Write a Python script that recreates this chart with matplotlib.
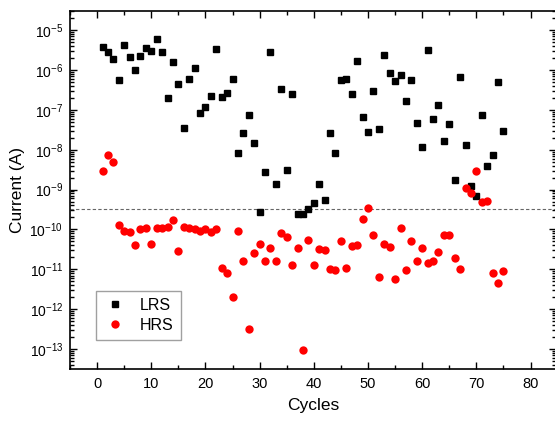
import numpy as np
import matplotlib
matplotlib.use("Agg")
import matplotlib.pyplot as plt
from matplotlib.ticker import FixedLocator, NullFormatter, LogFormatterSciNotation

plt.rcParams['font.family'] = ['Liberation Sans', 'DejaVu Sans']
plt.rcParams['mathtext.fontset'] = 'custom'
plt.rcParams['mathtext.rm'] = 'Liberation Sans'
plt.rcParams['mathtext.it'] = 'Liberation Sans'
plt.rcParams['mathtext.default'] = 'regular'

# Switching cycles
cycles = np.arange(1, 76)

# Low-resistance-state read current (A)
lrs_current = [
    3.7e-6, 2.8e-6, 1.9e-6, 5.6e-7, 4.2e-6, 2.1e-6, 9.8e-7, 2.3e-6, 3.5e-6, 3.0e-6,
    5.9e-6, 2.9e-6, 2.0e-7, 1.6e-6, 4.4e-7, 3.6e-8, 6.0e-7, 1.1e-6, 8.2e-8, 1.15e-7,
    2.2e-7, 3.3e-6, 2.1e-7, 2.7e-7, 5.8e-7, 8.3e-9, 2.6e-8, 7.5e-8, 1.5e-8, 2.7e-10,
    2.7e-9, 2.9e-6, 1.4e-9, 3.4e-7, 3.1e-9, 2.5e-7, 2.5e-10, 2.4e-10, 3.2e-10, 4.7e-10,
    1.4e-9, 5.4e-10, 2.6e-8, 8.1e-9, 5.6e-7, 5.8e-7, 2.5e-7, 1.7e-6, 6.6e-8, 2.8e-8,
    2.9e-7, 3.3e-8, 2.4e-6, 8.2e-7, 5.2e-7, 7.6e-7, 1.66e-7, 5.6e-7, 4.6e-8, 1.15e-8,
    3.1e-6, 6.0e-8, 1.3e-7, 1.66e-8, 4.5e-8, 1.7e-9, 6.5e-7, 1.3e-8, 1.2e-9, 6.9e-10,
    7.4e-8, 4.0e-9, 7.4e-9, 5.0e-7, 2.9e-8,
]

# High-resistance-state read current (A)
hrs_current = [
    3.0e-9, 7.2e-9, 5.0e-9, 1.3e-10, 9.1e-11, 8.8e-11, 4.0e-11, 1.0e-10, 1.06e-10, 4.3e-11,
    1.07e-10, 1.08e-10, 1.14e-10, 1.7e-10, 2.9e-11, 1.14e-10, 1.1e-10, 1.04e-10, 9.1e-11, 1.03e-10,
    8.8e-11, 1.0e-10, 1.07e-11, 7.9e-12, 2.0e-12, 9.1e-11, 1.65e-11, 3.1e-13, 2.6e-11, 4.2e-11,
    1.6e-11, 3.5e-11, 1.6e-11, 8.3e-11, 6.4e-11, 1.3e-11, 3.5e-11, 9.3e-14, 5.4e-11, 1.3e-11,
    3.2e-11, 3.1e-11, 1.0e-11, 9.5e-12, 5.1e-11, 1.05e-11, 3.8e-11, 4.1e-11, 1.8e-10, 3.4e-10,
    7.1e-11, 6.3e-12, 4.4e-11, 3.7e-11, 5.8e-12, 1.1e-10, 9.4e-12, 5.1e-11, 1.66e-11, 3.5e-11,
    1.45e-11, 1.66e-11, 2.7e-11, 7.4e-11, 7.4e-11, 1.95e-11, 1.0e-11, 1.1e-9, 8.3e-10, 2.9e-9,
    4.9e-10, 5.3e-10, 7.9e-12, 4.5e-12, 9.3e-12,
]

# Read-current threshold separating the two states
threshold = 3.2e-10

# Axis ticks
x_major = [0, 10, 20, 30, 40, 50, 60, 70, 80]
x_minor = [-5, 5, 15, 25, 35, 45, 55, 65, 75]
y_decades = list(range(-13, -4))

y_ymin, y_ymax = 10 ** -13.5, 10 ** -4.52
y_major = [10.0 ** d for d in y_decades]
y_minor = [m * 10.0 ** d for d in range(-14, -4) for m in range(2, 10)
           if y_ymin <= m * 10.0 ** d <= y_ymax]

fig = plt.figure(figsize=(5.55, 4.22), dpi=100)
ax = fig.add_axes([70 / 555, 1 - 369 / 422, (556 - 70) / 555, (369 - 11) / 422])

ax.plot(cycles, lrs_current, linestyle='none', marker='s', markersize=4.8,
        color='black', label='LRS', zorder=3)
ax.plot(cycles, hrs_current, linestyle='none', marker='o', markersize=6.0,
        color='#ff0000', markeredgewidth=0, label='HRS', zorder=3)
ax.axhline(threshold, color='#666666', linestyle=(0, (3, 2)), linewidth=0.8, zorder=2)

ax.set_yscale('log')
ax.set_xlim(-5, 84.7)
ax.set_ylim(y_ymin, y_ymax)

ax.xaxis.set_major_locator(FixedLocator(x_major))
ax.xaxis.set_minor_locator(FixedLocator(x_minor))
ax.yaxis.set_major_locator(FixedLocator(y_major))
ax.yaxis.set_major_formatter(LogFormatterSciNotation())
ax.yaxis.set_minor_locator(FixedLocator(y_minor))
ax.yaxis.set_minor_formatter(NullFormatter())

ax.tick_params(which='both', direction='in', top=True, right=True, width=1)
ax.tick_params(which='major', length=5)
ax.tick_params(which='minor', length=3)
ax.tick_params(axis='x', labelsize=10.5, pad=6)
ax.tick_params(axis='y', labelsize=10, pad=5)
for s in ax.spines.values():
    s.set_linewidth(1.2)

ax.set_xlabel('Cycles', fontsize=12.5, labelpad=5)
ax.set_ylabel('Current (A)', fontsize=12.5, labelpad=3)

leg = ax.legend(loc='lower left', bbox_to_anchor=((95.7 - 70) / 486, (369 - 340) / 358),
                fontsize=11.5, frameon=True, fancybox=False, borderpad=0.45,
                handletextpad=0.8, handlelength=1.5, labelspacing=0.3, borderaxespad=0)
leg.get_frame().set_edgecolor('#888888')
leg.get_frame().set_linewidth(1.0)

fig.savefig('out.png', dpi=100)
